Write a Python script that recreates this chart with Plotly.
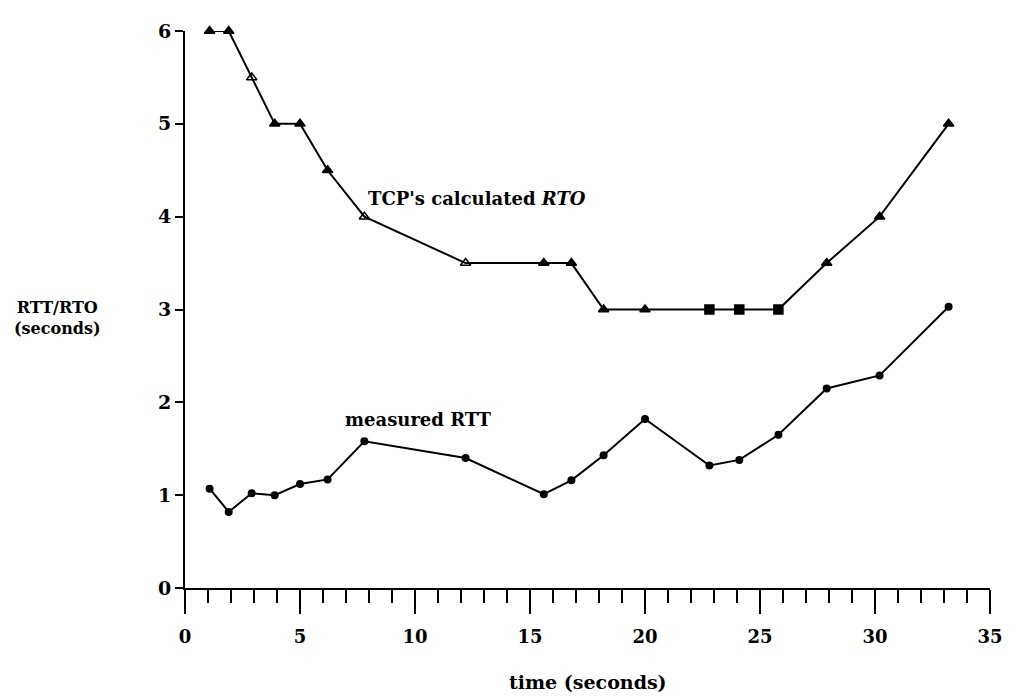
import plotly.graph_objects as go

time_s = [1.07, 1.9, 2.9, 3.9, 5.0, 6.2, 7.8, 12.2, 15.6, 16.8, 18.2, 20.0, 22.8, 24.1, 25.8, 27.9, 30.2, 33.2]
rto = [6, 6, 5.5, 5, 5, 4.5, 4, 3.5, 3.5, 3.5, 3, 3, 3, 3, 3, 3.5, 4, 5]
rtt = [1.07, 0.82, 1.02, 1.0, 1.12, 1.17, 1.58, 1.40, 1.01, 1.16, 1.43, 1.82, 1.32, 1.38, 1.65, 2.15, 2.29, 3.03]

rto_symbols = ["triangle-up", "triangle-up", "triangle-up-open", "triangle-up", "triangle-up",
               "triangle-up", "triangle-up-open", "triangle-up-open", "triangle-up", "triangle-up",
               "triangle-up", "triangle-up", "square", "square", "square", "triangle-up",
               "triangle-up", "triangle-up"]

font_family = "DejaVu Serif"

fig = go.Figure()
fig.add_trace(go.Scatter(
    x=time_s, y=rto, mode="lines+markers", cliponaxis=False,
    line=dict(color="black", width=2),
    marker=dict(symbol=rto_symbols, size=9, color="black", line=dict(color="black", width=1.5)),
    showlegend=False,
))
fig.add_trace(go.Scatter(
    x=time_s, y=rtt, mode="lines+markers", cliponaxis=False,
    line=dict(color="black", width=2),
    marker=dict(symbol="circle", size=8, color="black"),
    showlegend=False,
))

fig.add_annotation(x=12.7, y=4.2, text="<b>TCP's calculated <i>RTO</i></b>", showarrow=False,
                   font=dict(family=font_family, size=18, color="black"))
fig.add_annotation(x=10.17, y=1.81, text="<b>measured RTT</b>", showarrow=False,
                   font=dict(family=font_family, size=18, color="black"))
fig.add_annotation(xref="paper", yref="paper", x=-0.159, y=0.484, xanchor="center", yanchor="middle",
                   text="<b>RTT/RTO<br>(seconds)</b>", showarrow=False, align="center",
                   font=dict(family=font_family, size=16, color="black"))
fig.add_annotation(xref="paper", yref="paper", x=0.5, y=-0.168, xanchor="center", yanchor="middle",
                   text="<b>time (seconds)</b>", showarrow=False,
                   font=dict(family=font_family, size=19, color="black"))

fig.update_layout(
    width=1007, height=689,
    margin=dict(l=177, r=13, t=16, b=109),
    paper_bgcolor="white", plot_bgcolor="white",
    font=dict(family=font_family, size=17, color="black"),
    xaxis=dict(range=[0, 35], dtick=5, tick0=0, showgrid=False, zeroline=False,
               showline=True, linecolor="black", linewidth=2,
               ticks="outside", ticklen=24, tickwidth=2, tickcolor="black",
               minor=dict(dtick=1, ticks="outside", ticklen=13, tickwidth=2, tickcolor="black", showgrid=False),
               tickfont=dict(family=font_family, size=18, color="black"),
               ticklabelstandoff=7, ticklabeloverflow="allow",
               tickprefix="<b>", ticksuffix="</b>"),
    yaxis=dict(range=[0, 6], dtick=1, tick0=0, showgrid=False, zeroline=False,
               showline=True, linecolor="black", linewidth=2,
               ticks="outside", ticklen=8, tickwidth=2, tickcolor="black",
               tickfont=dict(family=font_family, size=19, color="black"),
               tickprefix="<b>", ticksuffix="</b>"),
)

fig.write_html("out.html")
